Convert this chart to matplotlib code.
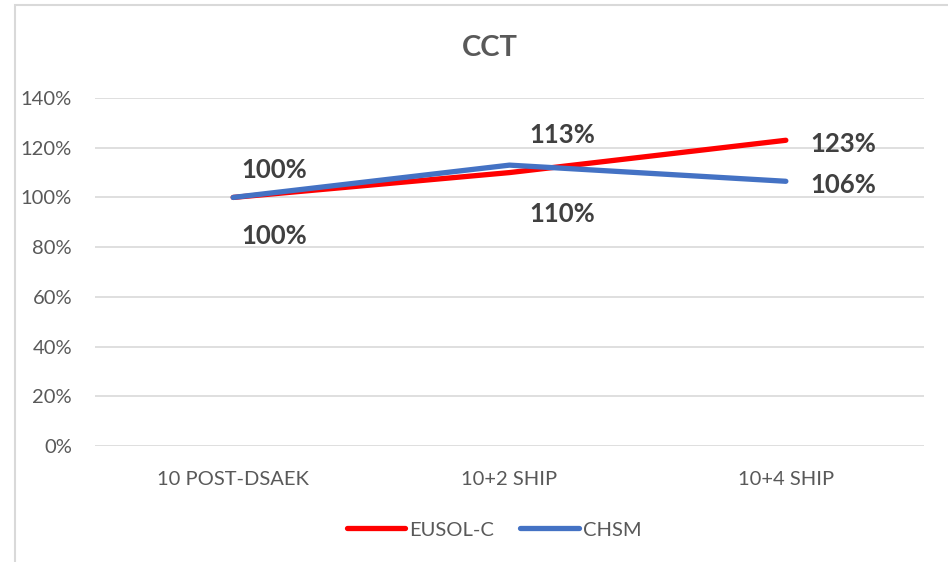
import matplotlib.pyplot as plt
from matplotlib.patches import Rectangle
from matplotlib.ticker import PercentFormatter

plt.rcParams['font.family'] = ['Lato', 'DejaVu Sans']

categories = ["10 POST-DSAEK", "10+2 SHIP", "10+4 SHIP"]
eusol = [1.00, 1.10, 1.23]
chsm = [1.00, 1.13, 1.065]
eusol_labels = ["100%", "110%", "123%"]
chsm_labels = ["100%", "113%", "106%"]

red = "#ff0000"
blue = "#4472c4"
txt = "#404040"
grey = "#595959"

fig = plt.figure(figsize=(9.48, 5.62), dpi=100)
ax = fig.add_axes([0.1002, 0.2064, 0.8745, 0.6192])

x = range(len(categories))
ax.plot(x, eusol, color=red, lw=3.8, solid_capstyle="round", label="EUSOL-C", zorder=3)
ax.plot(x, chsm, color=blue, lw=3.8, solid_capstyle="round", label="CHSM", zorder=4)

# label offsets (points)
eusol_off = [(29.5, -27.6), (38, -29.6), (41, -2.7)]
chsm_off = [(29.5, 20), (38, 21.9), (41, -2.7)]
for i in x:
    ax.annotate(eusol_labels[i], (i, eusol[i]), xytext=eusol_off[i], textcoords="offset points",
                ha="center", va="center", fontsize=18.5, fontweight="bold", color=txt)
    ax.annotate(chsm_labels[i], (i, chsm[i]), xytext=chsm_off[i], textcoords="offset points",
                ha="center", va="center", fontsize=18.5, fontweight="bold", color=txt)

ax.set_xlim(-0.5, 2.5)
ax.set_ylim(0, 1.4)
ax.set_yticks([0, 0.2, 0.4, 0.6, 0.8, 1.0, 1.2, 1.4])
ax.yaxis.set_major_formatter(PercentFormatter(1.0, decimals=0))
ax.set_xticks(list(x))
ax.set_xticklabels(categories)
ax.tick_params(axis="both", length=0, labelsize=14.5, colors=grey)
ax.tick_params(axis="x", pad=18)
ax.tick_params(axis="y", pad=16.5)
ax.grid(axis="y", color="#d9d9d9", lw=1.2)
ax.set_axisbelow(True)
for s in ax.spines.values():
    s.set_visible(False)

fig.text(0.517, 0.915, "CCT", ha="center", va="center", fontsize=21, fontweight="bold", color=grey)

leg = fig.legend(loc="center", bbox_to_anchor=(0.521, 0.057), ncol=2, frameon=False,
                 fontsize=14.5, handlelength=2.9, handletextpad=0.2, columnspacing=1.3)
for t in leg.get_texts():
    t.set_color(grey)

# chart border
fig.patches.append(Rectangle((15 / 948, -0.1), 1.2, 1 - 5 / 562 + 0.1, transform=fig.transFigure,
                             fill=False, edgecolor="#d9d9d9", lw=1.5))

fig.savefig("out.png", dpi=100)
